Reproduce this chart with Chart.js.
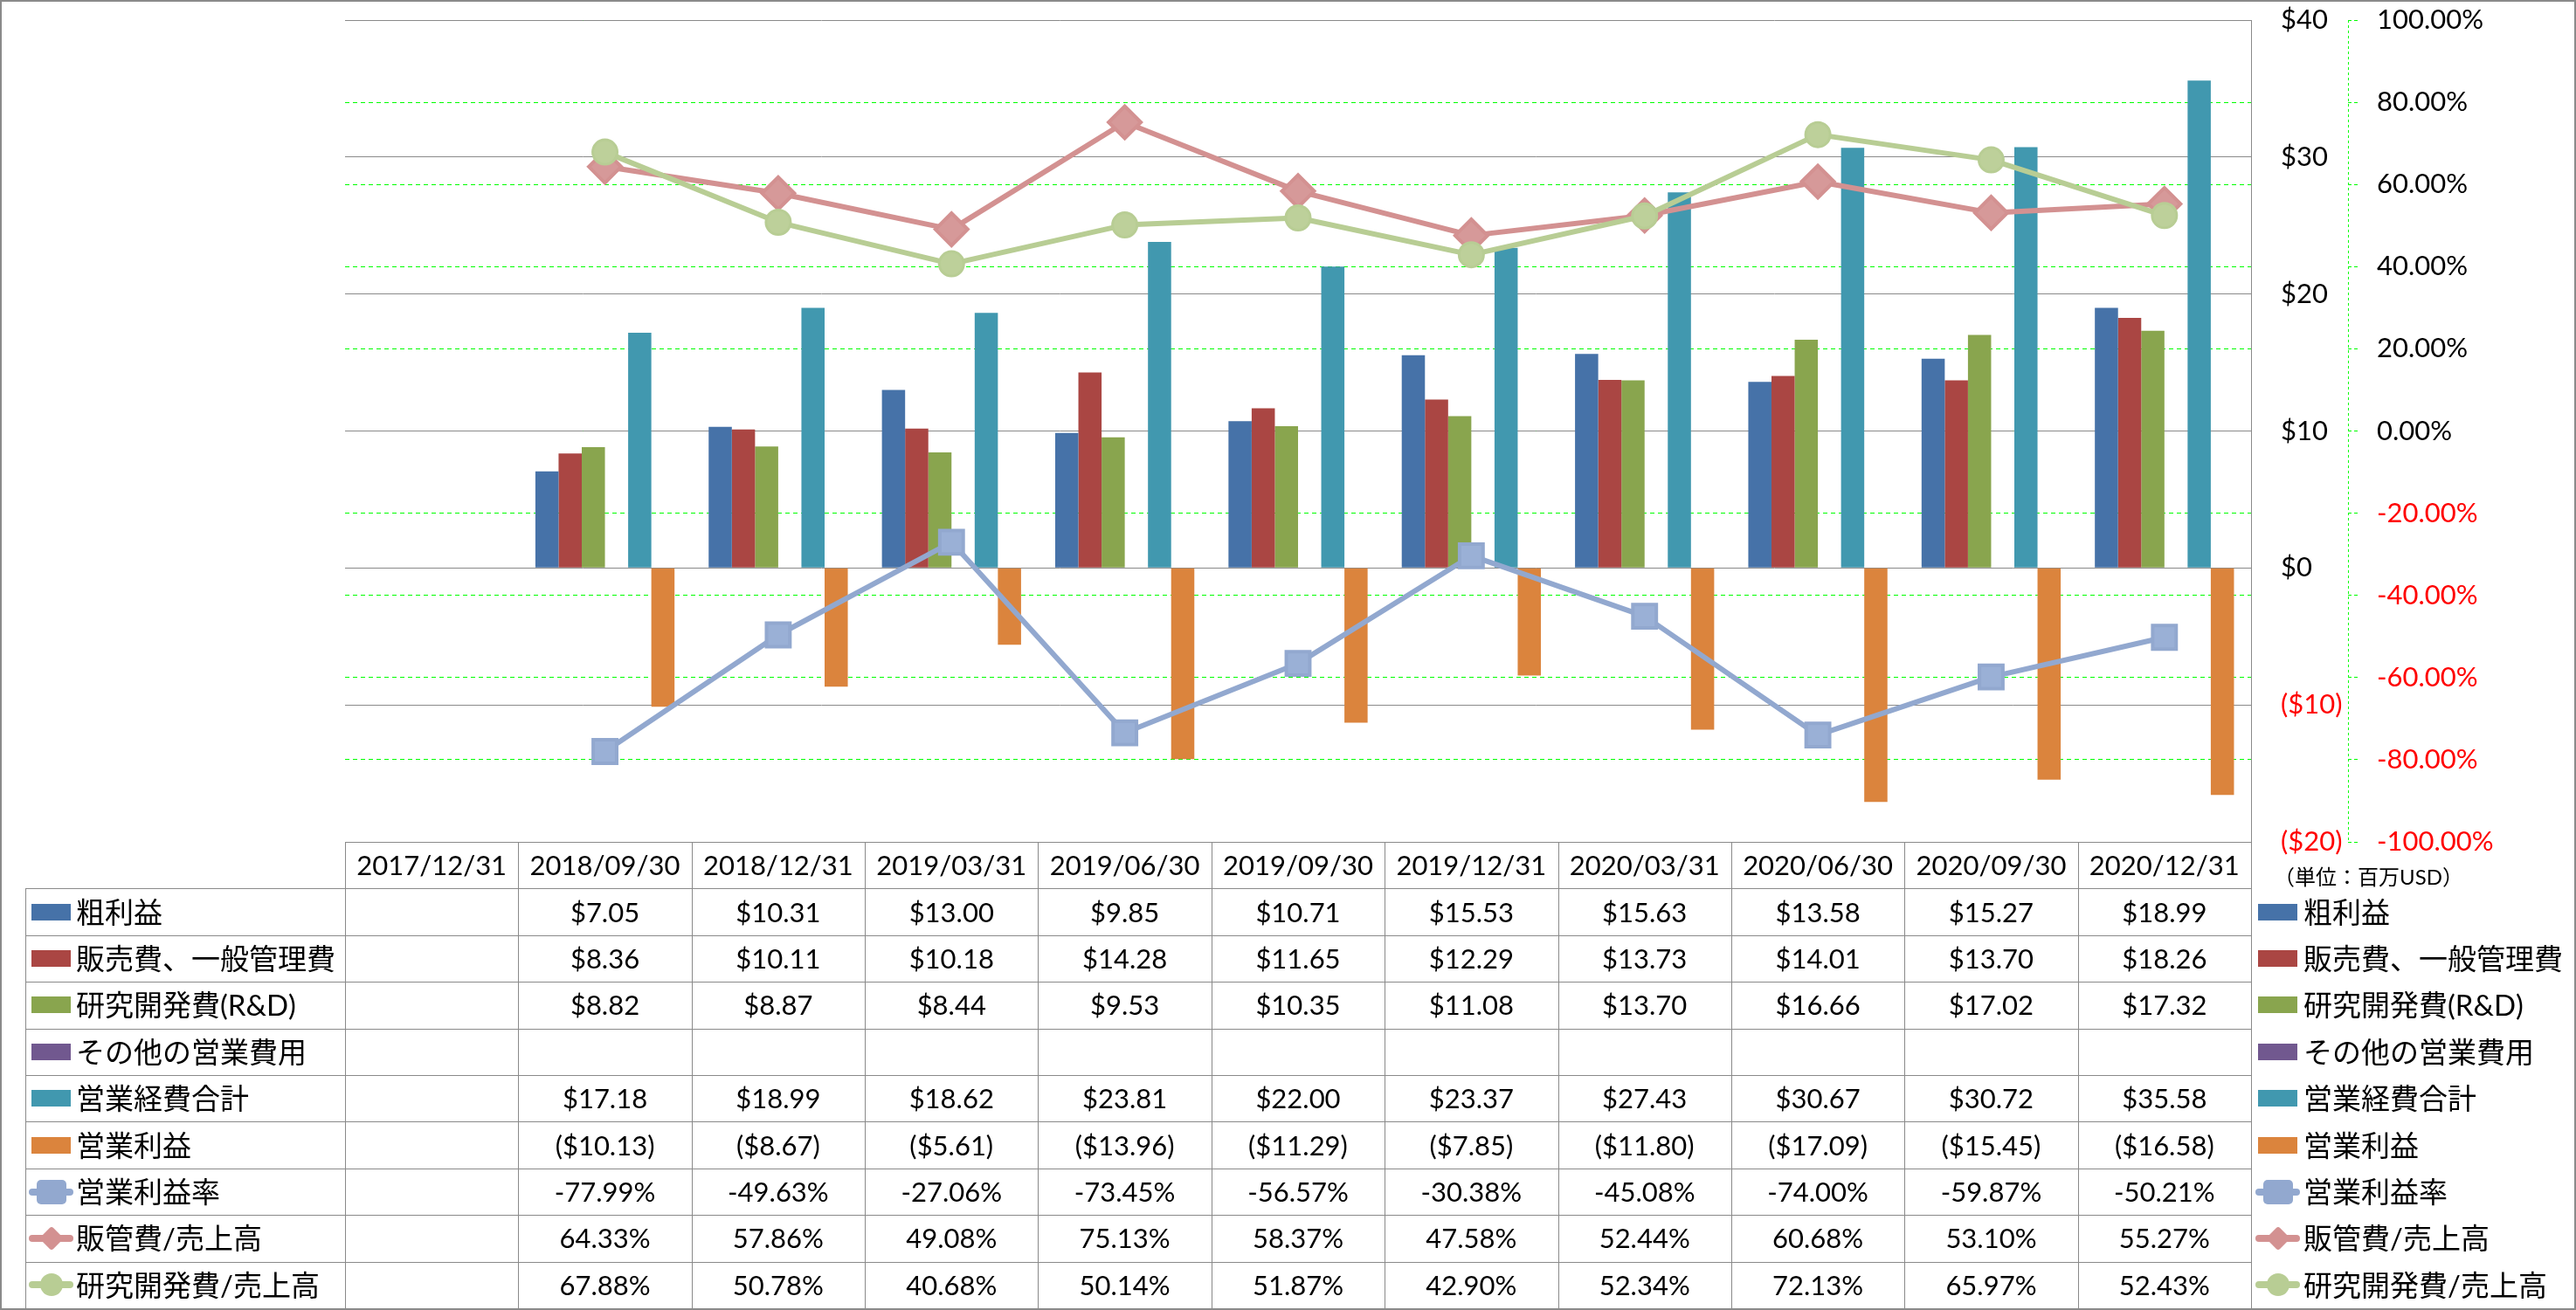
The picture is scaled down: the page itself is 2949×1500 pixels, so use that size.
<!DOCTYPE html>
<html>
<head>
<meta charset="utf-8">
<script src="https://cdn.jsdelivr.net/npm/chart.js@4/dist/chart.umd.min.js"></script>
<style>
html,body{margin:0;padding:0;background:#fff;}
#wrap{position:relative;width:2949px;height:1500px;overflow:hidden;background:#fff;
  font-family:Lato,"Noto Sans CJK JP",sans-serif;color:#000;}
#c{position:absolute;left:0;top:0;}
.hl{position:absolute;height:1px;background:#8a8a8a;}
.vl{position:absolute;width:1px;background:#8a8a8a;}
.t{position:absolute;display:flex;align-items:center;justify-content:center;white-space:nowrap;line-height:1;}
.lab{position:absolute;display:flex;align-items:center;white-space:nowrap;line-height:1;font-size:33px;}
.ico{position:absolute;}
#frame{position:absolute;left:0;top:0;width:2949px;height:1500px;box-sizing:border-box;border:2px solid #8a8a8a;pointer-events:none;}
</style>
</head>
<body>
<div id="wrap">
  <canvas id="c" width="2949" height="1500"></canvas>
  <div id="frame"></div>
</div>
<script>
// ---- data ----
const categories = ['2017/12/31','2018/09/30','2018/12/31','2019/03/31','2019/06/30','2019/09/30','2019/12/31','2020/03/31','2020/06/30','2020/09/30','2020/12/31'];
const grossProfit = [null, 7.05, 10.31, 13.00, 9.85, 10.71, 15.53, 15.63, 13.58, 15.27, 18.99];
const sgaExpense  = [null, 8.36, 10.11, 10.18, 14.28, 11.65, 12.29, 13.73, 14.01, 13.70, 18.26];
const rndExpense  = [null, 8.82, 8.87, 8.44, 9.53, 10.35, 11.08, 13.70, 16.66, 17.02, 17.32];
const otherOpex   = [null, null, null, null, null, null, null, null, null, null, null];
const totalOpex   = [null, 17.18, 18.99, 18.62, 23.81, 22.00, 23.37, 27.43, 30.67, 30.72, 35.58];
const opIncome    = [null, -10.13, -8.67, -5.61, -13.96, -11.29, -7.85, -11.80, -17.09, -15.45, -16.58];
const opMargin    = [null, -77.99, -49.63, -27.06, -73.45, -56.57, -30.38, -45.08, -74.00, -59.87, -50.21];
const sgaRatio    = [null, 64.33, 57.86, 49.08, 75.13, 58.37, 47.58, 52.44, 60.68, 53.10, 55.27];
const rndRatio    = [null, 67.88, 50.78, 40.68, 50.14, 51.87, 42.90, 52.34, 72.13, 65.97, 52.43];
const dollarAxis  = {min: -20, max: 40, step: 10};
const pctAxis     = {min: -100, max: 100, step: 20};
const unitLabel   = '（単位：百万USD）';

// ---- series definitions (styles kept separate from values) ----
const series = [
  {label:'粗利益',           data:grossProfit, kind:'bar',  fmt:'usd', color:'#4672A8'},
  {label:'販売費、一般管理費', data:sgaExpense,  kind:'bar',  fmt:'usd', color:'#AA4643'},
  {label:'研究開発費(R&D)',   data:rndExpense,  kind:'bar',  fmt:'usd', color:'#89A54E'},
  {label:'その他の営業費用',   data:otherOpex,   kind:'bar',  fmt:'usd', color:'#71588F'},
  {label:'営業経費合計',       data:totalOpex,   kind:'bar',  fmt:'usd', color:'#4198AF'},
  {label:'営業利益',          data:opIncome,    kind:'bar',  fmt:'usd', color:'#DB843D'},
  {label:'営業利益率',         data:opMargin,    kind:'line', fmt:'pct', color:'#92A8CF', fill:'#9AB0D6', marker:'rect',    r:19,   bw:4, order:2},
  {label:'販管費/売上高',      data:sgaRatio,    kind:'line', fmt:'pct', color:'#D39191', fill:'#D69999', marker:'rectRot', r:18.5, bw:4, order:1},
  {label:'研究開発費/売上高',   data:rndRatio,    kind:'line', fmt:'pct', color:'#B8CD94', fill:'#BDD09A', marker:'circle',  r:14,   bw:3, order:0}
];

const datasets = series.map(s => s.kind === 'bar' ? {
  type:'bar', label:s.label, data:s.data, yAxisID:'y', backgroundColor:s.color,
  borderWidth:0, categoryPercentage:0.803, barPercentage:1.0, order:5
} : {
  type:'line', label:s.label, data:s.data, yAxisID:'y2', borderColor:s.color, borderWidth:6,
  pointStyle:s.marker, pointRadius:s.r, pointBorderWidth:s.bw, pointBackgroundColor:s.fill,
  pointBorderColor:s.color, tension:0, fill:false, order:s.order, borderJoinStyle:'round', borderCapStyle:'round'
});

const FONT = 'Lato, "Noto Sans CJK JP", sans-serif';
const negRed = c => (c.tick && c.tick.value < 0) ? '#FF0000' : '#000000';

const dashAxis = {
  id:'dashAxis',
  afterDraw(chart){
    const s = chart.scales.y2, a = chart.chartArea, g = chart.ctx;
    g.save(); g.strokeStyle = '#00FF00'; g.lineWidth = 1; g.setLineDash([3,3]);
    const x = Math.round(s.left) + 0.5;
    g.beginPath(); g.moveTo(x, a.top); g.lineTo(x, a.bottom); g.stroke(); g.restore();
  }
};

const chart = new Chart(document.getElementById('c'), {
  type:'bar',
  data:{labels:categories, datasets},
  options:{
    responsive:false, animation:false, devicePixelRatio:1,
    layout:{padding:{left:395, top:21, right:61, bottom:536}},
    plugins:{legend:{display:false}, tooltip:{enabled:false}},
    scales:{
      x:{type:'category', display:false, offset:true, grid:{display:false}},
      y:{position:'right', weight:0, min:dollarAxis.min, max:dollarAxis.max,
         ticks:{stepSize:dollarAxis.step, padding:34, color:negRed, font:{family:FONT, size:31},
                callback:v => v < 0 ? '($' + (-v) + ')' : '$' + v},
         grid:{color:'#8a8a8a', lineWidth:1, drawTicks:false, z:0},
         border:{display:true, color:'#8a8a8a', width:1},
         afterFit:s => { s.width = 111; s.paddingTop = 0; s.paddingBottom = 0; }},
      y2:{position:'right', weight:1, min:pctAxis.min, max:pctAxis.max,
         ticks:{stepSize:pctAxis.step, padding:22, color:negRed, font:{family:FONT, size:31},
                callback:v => v.toFixed(2) + '%'},
         grid:{color:'#00FF00', lineWidth:1, drawTicks:true, tickLength:11, tickColor:'#00FF00',
               tickBorderDash:[4,3], z:-1},
         border:{display:false, dash:[5,4]},
         afterFit:s => { s.width = 200; s.paddingTop = 0; s.paddingBottom = 0; }}
    }
  },
  plugins:[dashAxis]
});

// ---- data table + legends drawn as HTML text, aligned with the x scale ----
function buildTable(chart){
  const wrap = document.getElementById('wrap');
  const frame = document.getElementById('frame');
  const el = (cls, st, txt) => {
    const d = document.createElement('div'); d.className = cls;
    for (const k in st) d.style[k] = (typeof st[k] === 'number') ? st[k] + 'px' : st[k];
    if (txt != null) d.textContent = txt;
    wrap.insertBefore(d, frame); return d;
  };
  const a = chart.chartArea, xs = chart.scales.x;
  const n = categories.length;
  const colW = (a.right - a.left) / n;
  const centers = categories.map((_, i) => xs.getPixelForValue(i));
  const edges = [a.left]; centers.forEach(c => edges.push(c + colW / 2));
  const top = Math.round(a.bottom), bottom = 1498;
  const rowH = (bottom - top) / (series.length + 1);
  const legL = 29;

  // horizontal lines
  el('hl', {left:edges[0], top:top, width:edges[n] - edges[0] + 1});
  for (let r = 1; r <= series.length + 1; r++) {
    el('hl', {left:legL, top:Math.round(top + rowH * r), width:edges[n] - legL + 1});
  }
  // vertical lines
  el('vl', {left:legL, top:Math.round(top + rowH), height:bottom - Math.round(top + rowH)});
  edges.forEach(x => el('vl', {left:Math.round(x), top:top, height:bottom - top}));

  // header
  categories.forEach((c, i) => el('t', {left:edges[i], top:top, width:colW, height:rowH, fontSize:'31px'}, c));
  el('lab', {left:2603, top:top + rowH * 0.25, height:rowH, fontSize:'24px'}, unitLabel);

  const fmt = (v, f) => {
    if (v == null) return '';
    if (f === 'pct') return v.toFixed(2) + '%';
    return v < 0 ? '($' + (-v).toFixed(2) + ')' : '$' + v.toFixed(2);
  };

  const icon = (s, cx, cy) => {
    if (s.kind === 'bar') {
      el('ico', {left:cx - 22.5, top:cy - 9.5, width:45, height:19, background:s.color});
      return;
    }
    el('ico', {left:cx - 25.5, top:cy - 4, width:51, height:8, borderRadius:'4px', background:s.color});
    if (s.marker === 'rect') {
      el('ico', {left:cx - 17, top:cy - 14, width:34, height:28, borderRadius:'5px', background:s.color});
    } else if (s.marker === 'rectRot') {
      el('ico', {left:cx - 10, top:cy - 10, width:20, height:20, borderRadius:'3px', background:s.color, transform:'rotate(45deg)'});
    } else {
      el('ico', {left:cx - 13, top:cy - 13, width:26, height:26, borderRadius:'50%', background:s.color});
    }
  };

  series.forEach((s, r) => {
    const y0 = top + rowH * (r + 1);
    const cy = y0 + rowH / 2;
    icon(s, 58.5, cy);
    el('lab', {left:87, top:y0, height:rowH}, s.label);
    icon(s, 2607.5, cy);
    el('lab', {left:2637, top:y0, height:rowH}, s.label);
    s.data.forEach((v, i) => {
      el('t', {left:edges[i], top:y0, width:colW, height:rowH, fontSize:'31px'}, fmt(v, s.fmt));
    });
  });
}
buildTable(chart);
</script>
</body>
</html>
